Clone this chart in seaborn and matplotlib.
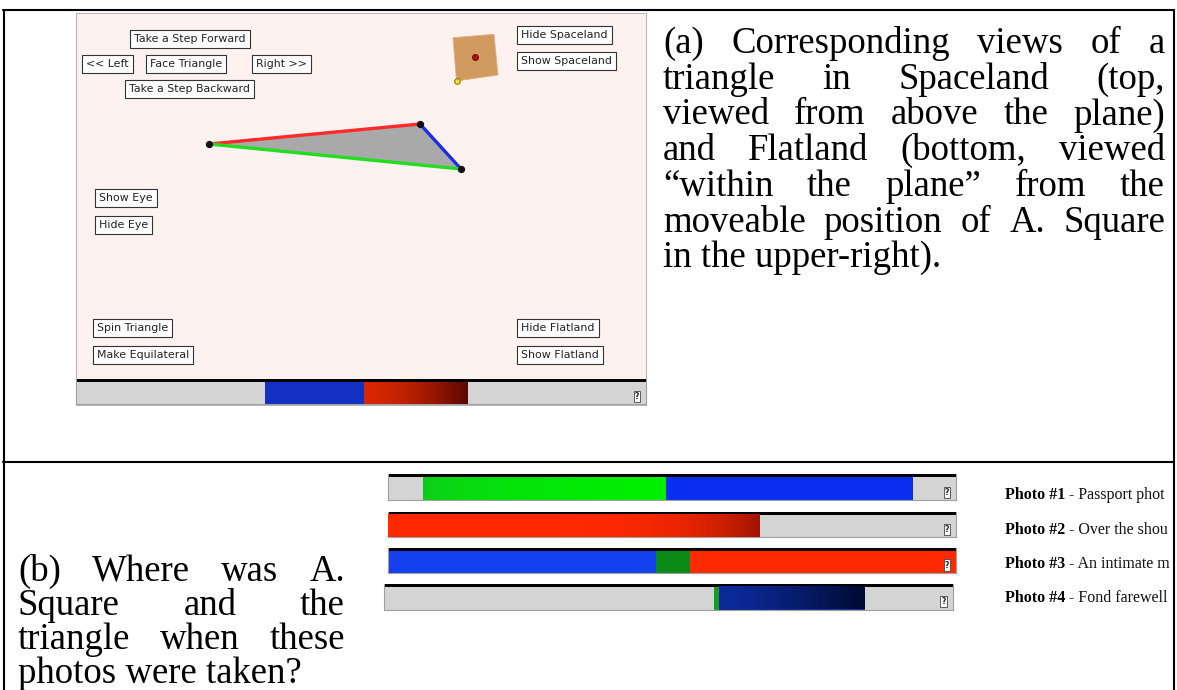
import numpy as np
import matplotlib
matplotlib.use("Agg")
import matplotlib.pyplot as plt
import seaborn as sns
from matplotlib.patches import Rectangle, Polygon
from matplotlib.colors import to_rgb

W, H = 1177, 690

# ---- data ----
caption_a = ["(a) Corresponding views of a",
             "triangle in Spaceland (top,",
             "viewed from above the plane)",
             "and Flatland (bottom, viewed",
             "\u201cwithin the plane\u201d from the",
             "moveable position of A. Square",
             "in the upper-right)."]
caption_b = ["(b) Where was A.",
             "Square and the",
             "triangle when these",
             "photos were taken?"]

button_labels = ["Take a Step Forward", "<< Left", "Face Triangle", "Right >>",
                 "Take a Step Backward", "Hide Spaceland", "Show Spaceland",
                 "Show Eye", "Hide Eye", "Spin Triangle", "Make Equilateral",
                 "Hide Flatland", "Show Flatland"]
button_x = [134, 86, 150, 256, 129, 521, 521, 99, 99, 97, 97, 521, 521]
button_y = [39, 64, 64, 64, 89, 35, 61, 198, 225, 328, 355, 328, 355]

# triangle seen from above (pixel coords of the screenshot)
tri_x = [209, 420, 461]
tri_y = [144, 124, 169]
# A. Square
square_x = [453, 494, 498, 456.5]
square_y = [37.7, 34.3, 75, 81]

# flatland view strip (percent of strip width)
view_edges = [33.2, 50.5, 68.7]
view_colors = ["#1230c4", "#d82800"]
view_fades = [None, ("#5a0800", 1.6)]

# labels as far as they show before the table border
photo_names = ["Photo #1", "Photo #2", "Photo #3", "Photo #4"]
photo_notes = [" - Passport phot", " - Over the shou", " - An intimate m",
               " - Fond farewell"]
photo_edges = [[6.3, 48.9, 92.4],
               [0, 65.3],
               [0, 47.2, 53.2, 100],
               [58.1, 59.0, 84.6]]
photo_colors = [["#12c222", "#0a2ef0"],
                ["#ff2a00"],
                ["#1540f0", "#0b8a17", "#ff2a00"],
                ["#15a020", "#0c2a9c"]]
photo_fades = [[("#00f000", 0.35), None],
               [("#a01400", 6.0)],
               [None, None, None],
               [None, ("#000a30", 1.3)]]


def px_axes(x0, y0, x1, y1):
    return fig.add_axes([x0 / W, 1 - y1 / H, (x1 - x0) / W, (y1 - y0) / H])


def draw_strip(bax, edges, colors, fades):
    bax.set_facecolor("#d4d4d4")
    bax.axhspan(0.88, 1.0, color="black", lw=0)
    for i, c in enumerate(colors):
        s, e = edges[i], edges[i + 1]
        bax.barh(0.44, e - s, left=s, height=0.88, color=c, lw=0)
        if fades[i]:
            c1, gam = fades[i]
            a, b = np.array(to_rgb(c)), np.array(to_rgb(c1))
            t = np.linspace(0, 1, 300) ** gam
            grad = a + (b - a) * t[:, None]
            bax.imshow(grad[None, :, :], extent=(s, e, 0, 0.88), aspect="auto",
                       interpolation="bilinear", zorder=3)
    bax.set_xlim(0, 100)
    bax.set_ylim(0, 1)
    bax.set_xticks([])
    bax.set_yticks([])
    bax.spines["top"].set_visible(False)
    for s in ["left", "bottom", "right"]:
        bax.spines[s].set_color("#a0a0a0")
        bax.spines[s].set_linewidth(0.8)
    bax.text(98.4, 0.3, "?", ha="center", va="center", fontsize=5.5, fontweight="bold",
             family="DejaVu Sans", zorder=6, color="#222222",
             bbox=dict(boxstyle="square,pad=0.15", fc="white", ec="#444444", lw=0.6))


def justify(ax, lines, x0, x1, y0, dy, size):
    r = fig.canvas.get_renderer()
    for i, line in enumerate(lines):
        y = y0 + i * dy
        if i == len(lines) - 1:
            ax.text(x0, y, line, fontsize=size, family="Liberation Serif",
                    va="baseline", color="black")
            continue
        words = line.split()
        txts = [ax.text(0, y, w, fontsize=size, family="Liberation Serif",
                        va="baseline", color="black") for w in words]
        widths = [t.get_window_extent(r).width for t in txts]
        gap = (x1 - x0 - sum(widths)) / (len(words) - 1)
        x = x0
        for t, w in zip(txts, widths):
            t.set_x(x)
            x += w + gap


sns.set_theme(style="white")
plt.rcParams["font.family"] = ["Liberation Serif", "DejaVu Sans"]
plt.rcParams["text.color"] = "black"

fig = plt.figure(figsize=(W / 100, H / 100), dpi=100)
ax = fig.add_axes([0, 0, 1, 1])
ax.set_xlim(0, W)
ax.set_ylim(H, 0)
ax.axis("off")

# table rules
ax.plot([3, 1174], [10, 10], color="black", lw=1.5, zorder=10)
ax.plot([3, 1174], [462, 462], color="black", lw=1.5, zorder=10)
ax.plot([3.5, 3.5], [10, H], color="black", lw=1.5, zorder=10)
ax.plot([1173.5, 1173.5], [10, H], color="black", lw=1.5, zorder=10)

# screenshot panel
ax.add_patch(Rectangle((76, 13), 570, 392, fc="#fdf2f0", ec="#b8b8b8", lw=0.8))
ax.add_patch(Polygon(list(zip(tri_x, tri_y)), closed=True, fc="#a9a9a9", ec="none"))
ax.plot(tri_x[:2], tri_y[:2], color="#ff2a2a", lw=2.4, solid_capstyle="round")
ax.plot(tri_x[1:], tri_y[1:], color="#1a2ee6", lw=2.4, solid_capstyle="round")
ax.plot([tri_x[2], tri_x[0]], [tri_y[2], tri_y[0]], color="#22dd22", lw=2.4,
        solid_capstyle="round")
ax.scatter(tri_x, tri_y, s=18, color="#111111", zorder=4)

ax.add_patch(Polygon(list(zip(square_x, square_y)), closed=True, fc="#d19a5e",
                     ec="#e0b080", lw=0.6))
ax.scatter([np.mean(square_x)], [np.mean(square_y)], s=18, color="#b01010",
           edgecolors="#701010", lw=0.8, zorder=4)
ax.scatter([square_x[3]], [square_y[3]], s=16, color="#f4e23a", edgecolors="#8a7a00",
           lw=0.8, zorder=4)

for lab, bx, by in zip(button_labels, button_x, button_y):
    ax.text(bx, by, lab, ha="left", va="center", fontsize=7.9, family="DejaVu Sans",
            color="#222222",
            bbox=dict(boxstyle="square,pad=0.38", fc="white", ec="#333333", lw=0.8))

view_ax = px_axes(76, 379, 646, 404)
draw_strip(view_ax, view_edges, view_colors, view_fades)

# photo strips
strip_boxes = [(387.5, 474, 956, 500), (387.5, 511.5, 956, 537),
               (387.5, 547.5, 956, 572.5), (383.6, 584, 952.5, 609.5)]
for k in range(4):
    bax = px_axes(*strip_boxes[k])
    draw_strip(bax, photo_edges[k], photo_colors[k], photo_fades[k])

# captions
justify(ax, caption_a, 663, 1165, 53, 35.7, 26.5)
justify(ax, caption_b, 18, 345, 581, 34.0, 26.5)

# photo labels
r = fig.canvas.get_renderer()
for k in range(4):
    y = 499 + k * 34.5
    t1 = ax.text(1005, y, photo_names[k], fontsize=11.5, fontweight="bold",
                 family="Liberation Serif", va="baseline")
    w = t1.get_window_extent(r).width
    ax.text(1005 + w, y, photo_notes[k], fontsize=11.5,
            family="Liberation Serif", va="baseline", color="#111111")

fig.savefig("out.png", dpi=100)
